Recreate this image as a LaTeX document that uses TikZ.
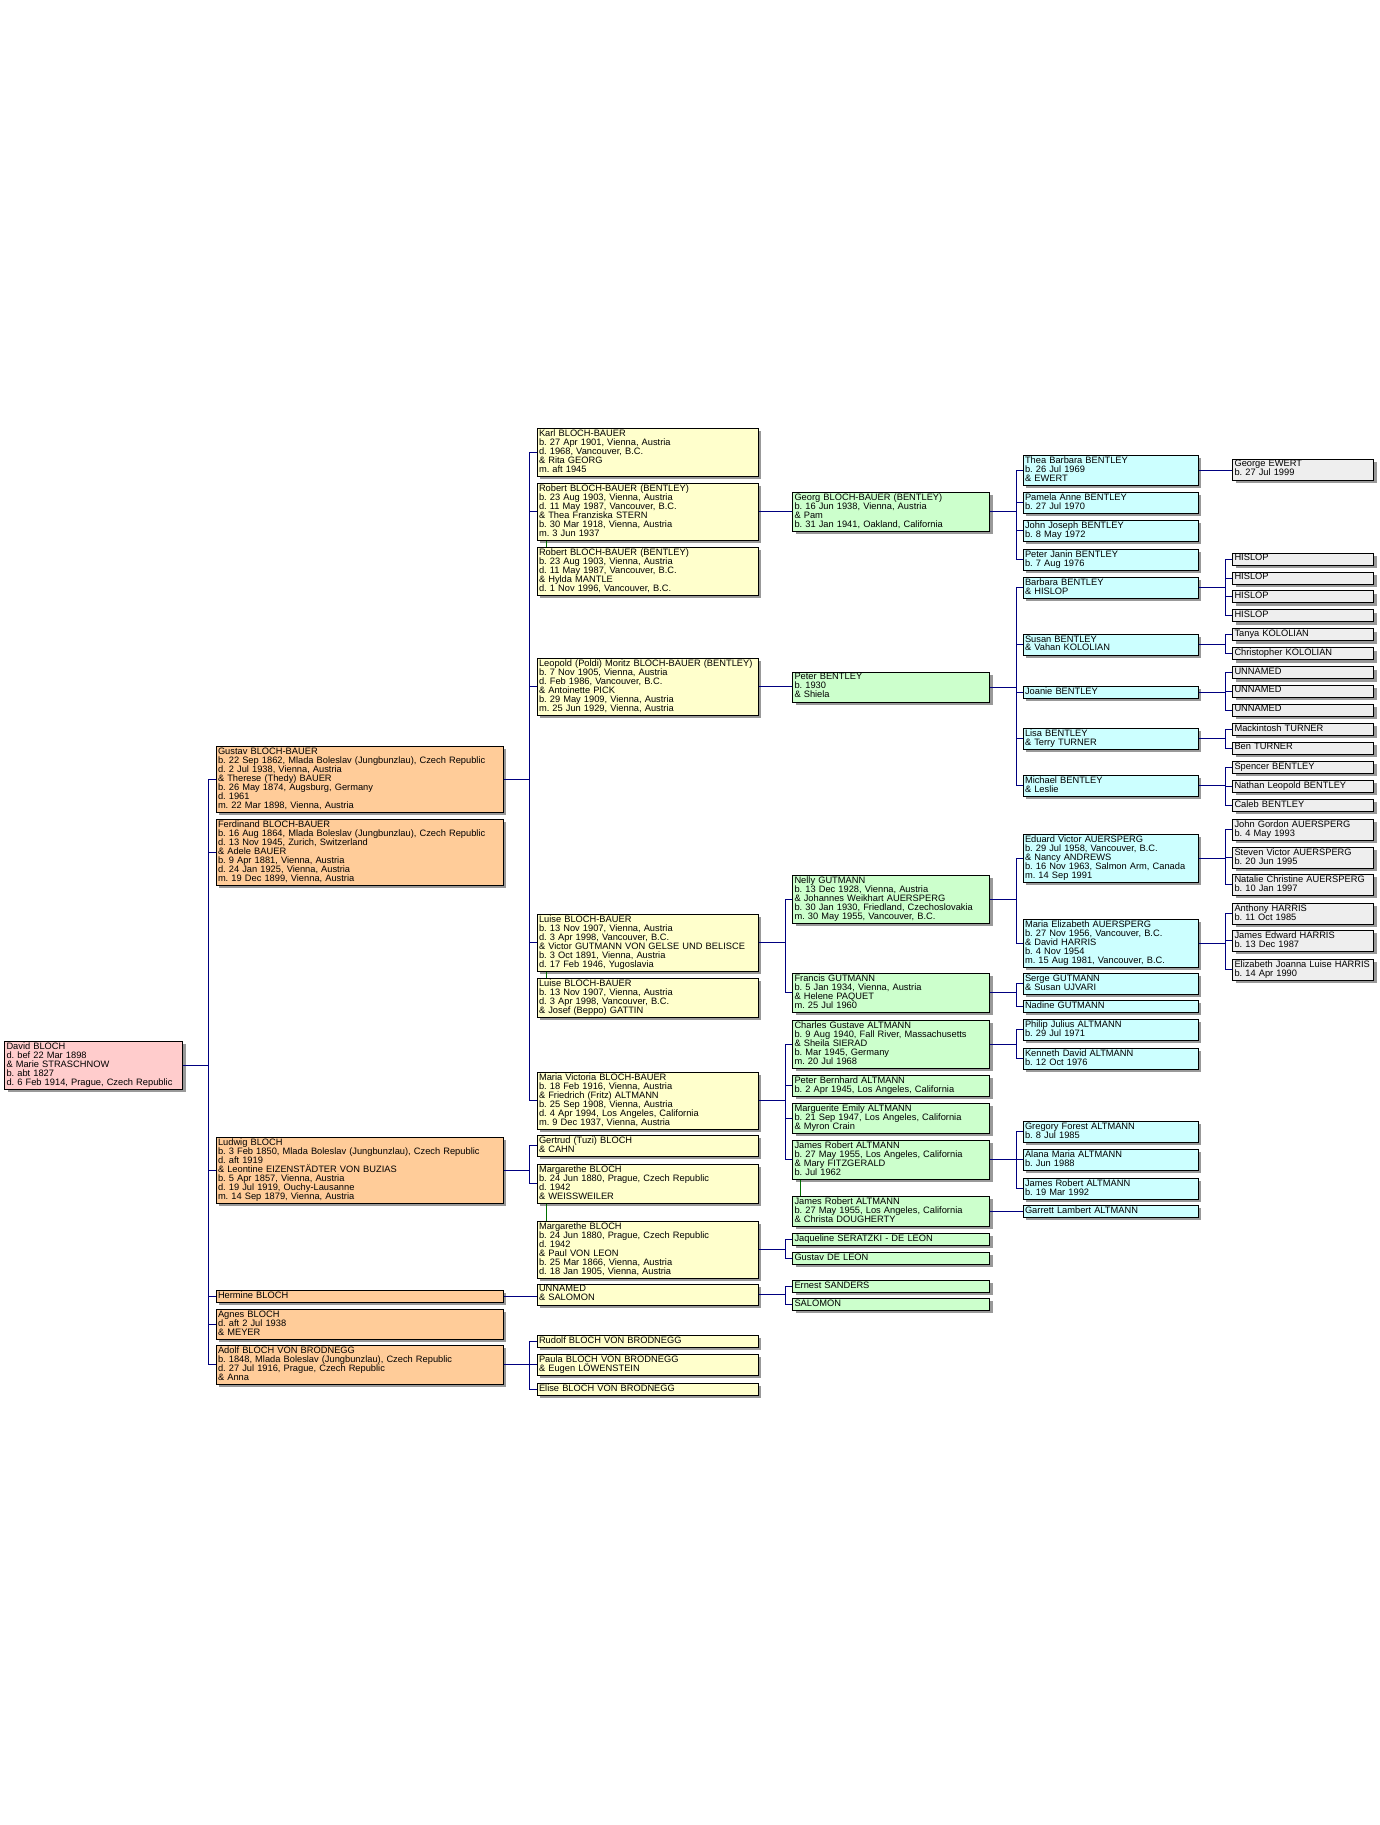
\documentclass[tikz,border=0pt]{standalone}
\usepackage{fontspec}
\setmainfont{Liberation Sans}
\usetikzlibrary{shadows}
\frenchspacing
\definecolor{boxpink}{HTML}{FFCCCC}
\definecolor{boxorange}{HTML}{FFCC99}
\definecolor{boxyellow}{HTML}{FFFFCC}
\definecolor{boxgreen}{HTML}{CCFFCC}
\definecolor{boxcyan}{HTML}{CCFFFF}
\definecolor{boxgray}{HTML}{EEEEEE}
\definecolor{linknavy}{HTML}{000080}
\definecolor{linkgreen}{HTML}{007000}
\begin{document}
\begin{tikzpicture}[x=1pt, y=-1pt,
    boxnode/.style={draw=black, line width=1pt, anchor=north west, align=left, inner xsep=2pt, inner ysep=1.5pt,
      font=\fontsize{9.3}{9}\selectfont, execute at begin node={\lineskiplimit=-9pt\strut}, execute at end node={\strut},
      drop shadow={shadow xshift=3pt, shadow yshift=-3pt, fill=black!40, opacity=1}},
    pinknode/.style={boxnode, fill=boxpink, text width=174pt},
    orangenode/.style={boxnode, fill=boxorange, text width=283pt},
    yellownode/.style={boxnode, fill=boxyellow, text width=217pt},
    greennode/.style={boxnode, fill=boxgreen, text width=193pt},
    cyannode/.style={boxnode, fill=boxcyan, text width=171pt},
    graynode/.style={boxnode, fill=boxgray, text width=137pt},
    link/.style={draw=linknavy, line width=1pt},
    samelink/.style={draw=linkgreen, line width=1pt}
    ]
    \useasboundingbox (0,0) rectangle (1380,1825);

    \node [pinknode] (david) at (4,1040.5) {David BLOCH\\d. bef 22 Mar 1898\\\& Marie STRASCHNOW\\b. abt 1827\\d. 6 Feb 1914, Prague, Czech Republic};

    \node [orangenode] (gustav) at (215.5,745.5) {Gustav BLOCH-BAUER\\b. 22 Sep 1862, Mlada Boleslav (Jungbunzlau), Czech Republic\\d. 2 Jul 1938, Vienna, Austria\\\& Therese (Thedy) BAUER\\b. 26 May 1874, Augsburg, Germany\\d. 1961\\m. 22 Mar 1898, Vienna, Austria};
    \node [orangenode] (ferdinand) at (215.5,818.5) {Ferdinand BLOCH-BAUER\\b. 16 Aug 1864, Mlada Boleslav (Jungbunzlau), Czech Republic\\d. 13 Nov 1945, Zurich, Switzerland\\\& Adele BAUER\\b. 9 Apr 1881, Vienna, Austria\\d. 24 Jan 1925, Vienna, Austria\\m. 19 Dec 1899, Vienna, Austria};
    \node [orangenode] (ludwig) at (215.5,1136.5) {Ludwig BLOCH\\b. 3 Feb 1850, Mlada Boleslav (Jungbunzlau), Czech Republic\\d. aft 1919\\\& Leontine EIZENSTÄDTER VON BUZIAS\\b. 5 Apr 1857, Vienna, Austria\\d. 19 Jul 1919, Ouchy-Lausanne\\m. 14 Sep 1879, Vienna, Austria};
    \node [orangenode] (hermine) at (215.5,1289.5) {Hermine BLOCH};
    \node [orangenode] (agnes) at (215.5,1308.5) {Agnes BLOCH\\d. aft 2 Jul 1938\\\& MEYER};
    \node [orangenode] (adolf) at (215.5,1344.5) {Adolf BLOCH VON BRODNEGG\\b. 1848, Mlada Boleslav (Jungbunzlau), Czech Republic\\d. 27 Jul 1916, Prague, Czech Republic\\\& Anna};

    \node [yellownode] (karl) at (536.5,427.5) {Karl BLOCH-BAUER\\b. 27 Apr 1901, Vienna, Austria\\d. 1968, Vancouver, B.C.\\\& Rita GEORG\\m. aft 1945};
    \node [yellownode] (robertA) at (536.5,482.5) {Robert BLOCH-BAUER (BENTLEY)\\b. 23 Aug 1903, Vienna, Austria\\d. 11 May 1987, Vancouver, B.C.\\\& Thea Franziska STERN\\b. 30 Mar 1918, Vienna, Austria\\m. 3 Jun 1937};
    \node [yellownode] (robertB) at (536.5,546.5) {Robert BLOCH-BAUER (BENTLEY)\\b. 23 Aug 1903, Vienna, Austria\\d. 11 May 1987, Vancouver, B.C.\\\& Hylda MANTLE\\d. 1 Nov 1996, Vancouver, B.C.};
    \node [yellownode] (leopold) at (536.5,657.5) {Leopold (Poldi) Moritz BLOCH-BAUER (BENTLEY)\\b. 7 Nov 1905, Vienna, Austria\\d. Feb 1986, Vancouver, B.C.\\\& Antoinette PICK\\b. 29 May 1909, Vienna, Austria\\m. 25 Jun 1929, Vienna, Austria};
    \node [yellownode] (luiseA) at (536.5,913.5) {Luise BLOCH-BAUER\\b. 13 Nov 1907, Vienna, Austria\\d. 3 Apr 1998, Vancouver, B.C.\\\& Victor GUTMANN VON GELSE UND BELISCE\\b. 3 Oct 1891, Vienna, Austria\\d. 17 Feb 1946, Yugoslavia};
    \node [yellownode] (luiseB) at (536.5,977.5) {Luise BLOCH-BAUER\\b. 13 Nov 1907, Vienna, Austria\\d. 3 Apr 1998, Vancouver, B.C.\\\& Josef (Beppo) GATTIN};
    \node [yellownode] (mariav) at (536.5,1071.5) {Maria Victoria BLOCH-BAUER\\b. 18 Feb 1916, Vienna, Austria\\\& Friedrich (Fritz) ALTMANN\\b. 25 Sep 1908, Vienna, Austria\\d. 4 Apr 1994, Los Angeles, California\\m. 9 Dec 1937, Vienna, Austria};
    \node [yellownode] (gertrud) at (536.5,1134.5) {Gertrud (Tuzi) BLOCH\\\& CAHN};
    \node [yellownode] (margA) at (536.5,1163.5) {Margarethe BLOCH\\b. 24 Jun 1880, Prague, Czech Republic\\d. 1942\\\& WEISSWEILER};
    \node [yellownode] (margB) at (536.5,1220.5) {Margarethe BLOCH\\b. 24 Jun 1880, Prague, Czech Republic\\d. 1942\\\& Paul VON LEON\\b. 25 Mar 1866, Vienna, Austria\\d. 18 Jan 1905, Vienna, Austria};
    \node [yellownode] (unnamedS) at (536.5,1283.5) {UNNAMED\\\& SALOMON};
    \node [yellownode] (rudolf) at (536.5,1334.5) {Rudolf BLOCH VON BRODNEGG};
    \node [yellownode] (paula) at (536.5,1353.5) {Paula BLOCH VON BRODNEGG\\\& Eugen LÖWENSTEIN};
    \node [yellownode] (elise) at (536.5,1382.5) {Elise BLOCH VON BRODNEGG};

    \node [greennode] (georg) at (792,491.5) {Georg BLOCH-BAUER (BENTLEY)\\b. 16 Jun 1938, Vienna, Austria\\\& Pam\\b. 31 Jan 1941, Oakland, California};
    \node [greennode] (peterB) at (792,671.5) {Peter BENTLEY\\b. 1930\\\& Shiela};
    \node [greennode] (nelly) at (792,874.5) {Nelly GUTMANN\\b. 13 Dec 1928, Vienna, Austria\\\& Johannes Weikhart AUERSPERG\\b. 30 Jan 1930, Friedland, Czechoslovakia\\m. 30 May 1955, Vancouver, B.C.};
    \node [greennode] (francis) at (792,972.5) {Francis GUTMANN\\b. 5 Jan 1934, Vienna, Austria\\\& Helene PAQUET\\m. 25 Jul 1960};
    \node [greennode] (charles) at (792,1019.5) {Charles Gustave ALTMANN\\b. 9 Aug 1940, Fall River, Massachusetts\\\& Sheila SIERAD\\b. Mar 1945, Germany\\m. 20 Jul 1968};
    \node [greennode] (peterA) at (792,1074.5) {Peter Bernhard ALTMANN\\b. 2 Apr 1945, Los Angeles, California};
    \node [greennode] (marguerite) at (792,1102.5) {Marguerite Emily ALTMANN\\b. 21 Sep 1947, Los Angeles, California\\\& Myron Crain};
    \node [greennode] (jamesA) at (792,1139.5) {James Robert ALTMANN\\b. 27 May 1955, Los Angeles, California\\\& Mary FITZGERALD\\b. Jul 1962};
    \node [greennode] (jamesB) at (792,1195.5) {James Robert ALTMANN\\b. 27 May 1955, Los Angeles, California\\\& Christa DOUGHERTY};
    \node [greennode] (jaqueline) at (792,1232.5) {Jaqueline SERATZKI - DE LEON};
    \node [greennode] (gustavL) at (792,1251.5) {Gustav DE LEON};
    \node [greennode] (ernest) at (792,1279.5) {Ernest SANDERS};
    \node [greennode] (salomon) at (792,1297.5) {SALOMON};

    \node [cyannode] (thea) at (1022.5,454.5) {Thea Barbara BENTLEY\\b. 26 Jul 1969\\\& EWERT};
    \node [cyannode] (pamela) at (1022.5,491.5) {Pamela Anne BENTLEY\\b. 27 Jul 1970};
    \node [cyannode] (johnJ) at (1022.5,519.5) {John Joseph BENTLEY\\b. 8 May 1972};
    \node [cyannode] (peterJ) at (1022.5,548.5) {Peter Janin BENTLEY\\b. 7 Aug 1976};
    \node [cyannode] (barbara) at (1022.5,576.5) {Barbara BENTLEY\\\& HISLOP};
    \node [cyannode] (susan) at (1022.5,633.5) {Susan BENTLEY\\\& Vahan KOLOLIAN};
    \node [cyannode] (joanie) at (1022.5,685.5) {Joanie BENTLEY};
    \node [cyannode] (lisa) at (1022.5,727.5) {Lisa BENTLEY\\\& Terry TURNER};
    \node [cyannode] (michael) at (1022.5,774.5) {Michael BENTLEY\\\& Leslie};
    \node [cyannode] (eduard) at (1022.5,833.5) {Eduard Victor AUERSPERG\\b. 29 Jul 1958, Vancouver, B.C.\\\& Nancy ANDREWS\\b. 16 Nov 1963, Salmon Arm, Canada\\m. 14 Sep 1991};
    \node [cyannode] (mariaE) at (1022.5,918.5) {Maria Elizabeth AUERSPERG\\b. 27 Nov 1956, Vancouver, B.C.\\\& David HARRIS\\b. 4 Nov 1954\\m. 15 Aug 1981, Vancouver, B.C.};
    \node [cyannode] (serge) at (1022.5,972.5) {Serge GUTMANN\\\& Susan UJVARI};
    \node [cyannode] (nadine) at (1022.5,999.5) {Nadine GUTMANN};
    \node [cyannode] (philip) at (1022.5,1018.5) {Philip Julius ALTMANN\\b. 29 Jul 1971};
    \node [cyannode] (kenneth) at (1022.5,1047.5) {Kenneth David ALTMANN\\b. 12 Oct 1976};
    \node [cyannode] (gregory) at (1022.5,1120.5) {Gregory Forest ALTMANN\\b. 8 Jul 1985};
    \node [cyannode] (alana) at (1022.5,1148.5) {Alana Maria ALTMANN\\b. Jun 1988};
    \node [cyannode] (jamesC) at (1022.5,1177.5) {James Robert ALTMANN\\b. 19 Mar 1992};
    \node [cyannode] (garrett) at (1022.5,1204.5) {Garrett Lambert ALTMANN};

    \node [graynode] (george) at (1232,458.5) {George EWERT\\b. 27 Jul 1999};
    \node [graynode] (hislopA) at (1232,552.5) {HISLOP};
    \node [graynode] (hislopB) at (1232,571.5) {HISLOP};
    \node [graynode] (hislopC) at (1232,590) {HISLOP};
    \node [graynode] (hislopD) at (1232,609) {HISLOP};
    \node [graynode] (tanya) at (1232,628) {Tanya KOLOLIAN};
    \node [graynode] (christopher) at (1232,647) {Christopher KOLOLIAN};
    \node [graynode] (unnamedA) at (1232,666) {UNNAMED};
    \node [graynode] (unnamedB) at (1232,684.5) {UNNAMED};
    \node [graynode] (unnamedC) at (1232,703.5) {UNNAMED};
    \node [graynode] (mackintosh) at (1232,722.5) {Mackintosh TURNER};
    \node [graynode] (ben) at (1232,741.5) {Ben TURNER};
    \node [graynode] (spencer) at (1232,760.5) {Spencer BENTLEY};
    \node [graynode] (nathan) at (1232,779.5) {Nathan Leopold BENTLEY};
    \node [graynode] (caleb) at (1232,798.5) {Caleb BENTLEY};
    \node [graynode] (johnG) at (1232,818.5) {John Gordon AUERSPERG\\b. 4 May 1993};
    \node [graynode] (steven) at (1232,846.5) {Steven Victor AUERSPERG\\b. 20 Jun 1995};
    \node [graynode] (natalie) at (1232,873.5) {Natalie Christine AUERSPERG\\b. 10 Jan 1997};
    \node [graynode] (anthony) at (1232,902.5) {Anthony HARRIS\\b. 11 Oct 1985};
    \node [graynode] (jamesE) at (1232,929.5) {James Edward HARRIS\\b. 13 Dec 1987};
    \node [graynode] (elizabeth) at (1232,958.5) {Elizabeth Joanna Luise HARRIS\\b. 14 Apr 1990};

    % generation 1
    \draw [link] (david.east) -| ([xshift=-7pt]gustav.west) -- (gustav.west);
    \draw [link] (david.east) -| ([xshift=-7pt]ferdinand.west) -- (ferdinand.west);
    \draw [link] (david.east) -| ([xshift=-7pt]ludwig.west) -- (ludwig.west);
    \draw [link] (david.east) -| ([xshift=-7pt]hermine.west) -- (hermine.west);
    \draw [link] (david.east) -| ([xshift=-7pt]agnes.west) -- (agnes.west);
    \draw [link] (david.east) -| ([xshift=-7pt]adolf.west) -- (adolf.west);

    % generation 2
    \draw [link] (gustav.east) -| ([xshift=-7pt]karl.west) -- (karl.west);
    \draw [link] (gustav.east) -| ([xshift=-7pt]robertA.west) -- (robertA.west);
    \draw [link] (gustav.east) -| ([xshift=-7pt]leopold.west) -- (leopold.west);
    \draw [link] (gustav.east) -| ([xshift=-7pt]luiseA.west) -- (luiseA.west);
    \draw [link] (gustav.east) -| ([xshift=-7pt]mariav.west) -- (mariav.west);
    \draw [link] (ludwig.east) -| ([xshift=-7pt]gertrud.west) -- (gertrud.west);
    \draw [link] (ludwig.east) -| ([xshift=-7pt]margA.west) -- (margA.west);
    \draw [link] (hermine.east) -- (hermine.east -| unnamedS.west);
    \draw [link] (adolf.east) -| ([xshift=-7pt]rudolf.west) -- (rudolf.west);
    \draw [link] (adolf.east) -| ([xshift=-7pt]paula.west) -- (paula.west);
    \draw [link] (adolf.east) -| ([xshift=-7pt]elise.west) -- (elise.west);
    \draw [samelink] ([xshift=9.5pt]robertA.south west) -- ([xshift=9.5pt]robertB.north west);
    \draw [samelink] ([xshift=9.5pt]luiseA.south west) -- ([xshift=9.5pt]luiseB.north west);
    \draw [samelink] ([xshift=9.5pt]margA.south west) -- ([xshift=9.5pt]margB.north west);

    % generation 3
    \draw [link] (robertA.east) -- (robertA.east -| georg.west);
    \draw [link] (leopold.east) -- (leopold.east -| peterB.west);
    \draw [link] (luiseA.east) -| ([xshift=-7pt]nelly.west) -- (nelly.west);
    \draw [link] (luiseA.east) -| ([xshift=-7pt]francis.west) -- (francis.west);
    \draw [link] (mariav.east) -| ([xshift=-7pt]charles.west) -- (charles.west);
    \draw [link] (mariav.east) -| ([xshift=-7pt]peterA.west) -- (peterA.west);
    \draw [link] (mariav.east) -| ([xshift=-7pt]marguerite.west) -- (marguerite.west);
    \draw [link] (mariav.east) -| ([xshift=-7pt]jamesA.west) -- (jamesA.west);
    \draw [link] (margB.east) -| ([xshift=-7pt]jaqueline.west) -- (jaqueline.west);
    \draw [link] (margB.east) -| ([xshift=-7pt]gustavL.west) -- (gustavL.west);
    \draw [link] (unnamedS.east) -| ([xshift=-7pt]ernest.west) -- (ernest.west);
    \draw [link] (unnamedS.east) -| ([xshift=-7pt]salomon.west) -- (salomon.west);
    \draw [samelink] ([xshift=8.5pt]jamesA.south west) -- ([xshift=8.5pt]jamesB.north west);

    % generation 4
    \draw [link] (georg.east) -| ([xshift=-6pt]thea.west) -- (thea.west);
    \draw [link] (georg.east) -| ([xshift=-6pt]pamela.west) -- (pamela.west);
    \draw [link] (georg.east) -| ([xshift=-6pt]johnJ.west) -- (johnJ.west);
    \draw [link] (georg.east) -| ([xshift=-6pt]peterJ.west) -- (peterJ.west);
    \draw [link] (peterB.east) -| ([xshift=-6pt]barbara.west) -- (barbara.west);
    \draw [link] (peterB.east) -| ([xshift=-6pt]susan.west) -- (susan.west);
    \draw [link] (peterB.east) -| ([xshift=-6pt]joanie.west) -- (joanie.west);
    \draw [link] (peterB.east) -| ([xshift=-6pt]lisa.west) -- (lisa.west);
    \draw [link] (peterB.east) -| ([xshift=-6pt]michael.west) -- (michael.west);
    \draw [link] (nelly.east) -| ([xshift=-6pt]eduard.west) -- (eduard.west);
    \draw [link] (nelly.east) -| ([xshift=-6pt]mariaE.west) -- (mariaE.west);
    \draw [link] (francis.east) -| ([xshift=-6pt]serge.west) -- (serge.west);
    \draw [link] (francis.east) -| ([xshift=-6pt]nadine.west) -- (nadine.west);
    \draw [link] (charles.east) -| ([xshift=-6pt]philip.west) -- (philip.west);
    \draw [link] (charles.east) -| ([xshift=-6pt]kenneth.west) -- (kenneth.west);
    \draw [link] (jamesA.east) -| ([xshift=-6pt]gregory.west) -- (gregory.west);
    \draw [link] (jamesA.east) -| ([xshift=-6pt]alana.west) -- (alana.west);
    \draw [link] (jamesA.east) -| ([xshift=-6pt]jamesC.west) -- (jamesC.west);
    \draw [link] (jamesB.east) -- (jamesB.east -| garrett.west);

    % generation 5
    \draw [link] (thea.east) -- (thea.east -| george.west);
    \draw [link] (barbara.east) -| ([xshift=-7pt]hislopA.west) -- (hislopA.west);
    \draw [link] (barbara.east) -| ([xshift=-7pt]hislopB.west) -- (hislopB.west);
    \draw [link] (barbara.east) -| ([xshift=-7pt]hislopC.west) -- (hislopC.west);
    \draw [link] (barbara.east) -| ([xshift=-7pt]hislopD.west) -- (hislopD.west);
    \draw [link] (susan.east) -| ([xshift=-7pt]tanya.west) -- (tanya.west);
    \draw [link] (susan.east) -| ([xshift=-7pt]christopher.west) -- (christopher.west);
    \draw [link] (joanie.east) -| ([xshift=-7pt]unnamedA.west) -- (unnamedA.west);
    \draw [link] (joanie.east) -| ([xshift=-7pt]unnamedB.west) -- (unnamedB.west);
    \draw [link] (joanie.east) -| ([xshift=-7pt]unnamedC.west) -- (unnamedC.west);
    \draw [link] (lisa.east) -| ([xshift=-7pt]mackintosh.west) -- (mackintosh.west);
    \draw [link] (lisa.east) -| ([xshift=-7pt]ben.west) -- (ben.west);
    \draw [link] (michael.east) -| ([xshift=-7pt]spencer.west) -- (spencer.west);
    \draw [link] (michael.east) -| ([xshift=-7pt]nathan.west) -- (nathan.west);
    \draw [link] (michael.east) -| ([xshift=-7pt]caleb.west) -- (caleb.west);
    \draw [link] (eduard.east) -| ([xshift=-7pt]johnG.west) -- (johnG.west);
    \draw [link] (eduard.east) -| ([xshift=-7pt]steven.west) -- (steven.west);
    \draw [link] (eduard.east) -| ([xshift=-7pt]natalie.west) -- (natalie.west);
    \draw [link] (mariaE.east) -| ([xshift=-7pt]anthony.west) -- (anthony.west);
    \draw [link] (mariaE.east) -| ([xshift=-7pt]jamesE.west) -- (jamesE.west);
    \draw [link] (mariaE.east) -| ([xshift=-7pt]elizabeth.west) -- (elizabeth.west);
  \end{tikzpicture}
\end{document}
